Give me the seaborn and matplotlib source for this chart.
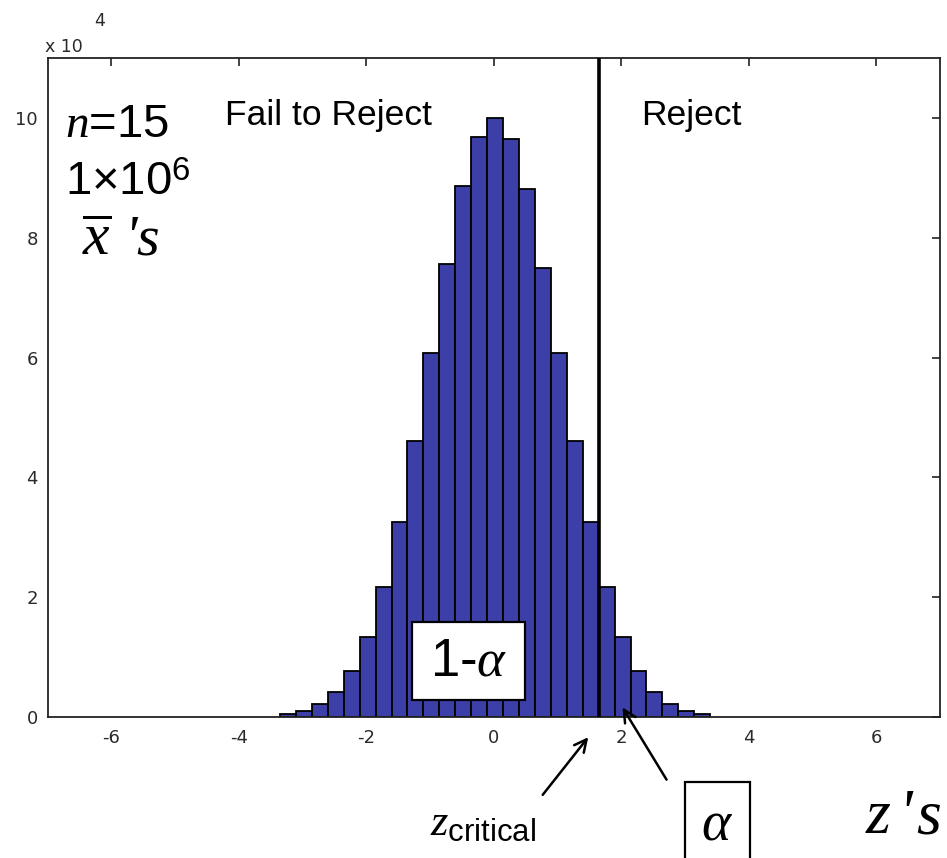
import matplotlib
matplotlib.use("Agg")
import matplotlib.pyplot as plt
import matplotlib.patches as mpatches
import seaborn as sns
import pandas as pd

# ---- data ----
bin_centers = [-3.23, -2.98, -2.73, -2.48, -2.23, -1.98, -1.73, -1.48, -1.23,
               -0.98, -0.73, -0.48, -0.23, 0.02, 0.27, 0.52, 0.77, 1.02,
               1.27, 1.52, 1.77, 2.02, 2.27, 2.52, 2.77, 3.02, 3.27]
counts_x1e4 = [0.045, 0.095, 0.21, 0.42, 0.765, 1.33, 2.16, 3.25, 4.60,
               6.07, 7.57, 8.86, 9.69, 10.0, 9.66, 8.82, 7.49, 6.07,
               4.60, 3.25, 2.16, 1.33, 0.765, 0.42, 0.21, 0.095, 0.045]
bin_width = 0.25
z_critical = 1.645
x_ticks = [-6, -4, -2, 0, 2, 4, 6]
y_ticks = [0, 2, 4, 6, 8, 10]

df = pd.DataFrame({"z": bin_centers, "count": counts_x1e4})

sns.set_style("white")
plt.rcParams["font.family"] = ["Liberation Sans", "DejaVu Sans"]
plt.rcParams["text.color"] = "black"
plt.rcParams["mathtext.fontset"] = "custom"
plt.rcParams["mathtext.rm"] = "Liberation Sans"
plt.rcParams["mathtext.it"] = "Liberation Serif:italic"
plt.rcParams["mathtext.bf"] = "Liberation Sans:bold"

W, H = 947, 858
fig = plt.figure(figsize=(W / 100, H / 100), dpi=100)
L, R, T, B = 47.7, 940.0, 58.3, 716.7
ax = fig.add_axes([L / W, 1 - B / H, (R - L) / W, (B - T) / H])


def fp(x, y):
    return (x / W, 1 - y / H)


sns.histplot(data=df, x="z", weights="count", binwidth=bin_width,
             binrange=(min(bin_centers) - bin_width / 2, max(bin_centers) + bin_width / 2),
             color="#3d3fa8", edgecolor="black", linewidth=1.3, alpha=1.0, ax=ax)

ax.axvline(z_critical, color="black", lw=2.6, zorder=3)

ax.set_xlim(-7, 7)
ax.set_ylim(0, 11)
ax.set_xticks(x_ticks)
ax.set_yticks(y_ticks)
ax.set_xticklabels([str(t) for t in x_ticks])
ax.set_yticklabels([str(t) for t in y_ticks])
ax.set_xlabel("")
ax.set_ylabel("")
ax.set_axisbelow(True)
ax.tick_params(direction="in", length=6, width=1.2, color="#222222",
               top=True, right=True, labelsize=13, labelcolor="#2a2a2a")
ax.tick_params(axis="x", pad=9)
ax.tick_params(axis="y", pad=7)
for lab in ax.get_xticklabels() + ax.get_yticklabels():
    lab.set_fontfamily("DejaVu Sans")
for sp in ax.spines.values():
    sp.set_visible(True)
    sp.set_color("#222222")
    sp.set_linewidth(1.3)

# exponent label
fig.text(*fp(45, 52), "x 10", fontsize=12.5, color="#2a2a2a", family="DejaVu Sans",
         ha="left", va="baseline")
fig.text(*fp(94, 26), "4", fontsize=12.5, color="#2a2a2a", family="DejaVu Sans",
         ha="left", va="baseline")

# region labels
fig.text(*fp(225, 125), "Fail to Reject", fontsize=25.5, ha="left", va="baseline")
fig.text(*fp(641, 125), "Reject", fontsize=25.5, ha="left", va="baseline")

# sample info
fig.text(*fp(65, 137), r"$n$=15", fontsize=34, ha="left", va="baseline")
fig.text(*fp(65, 195), r"1×10$^{6}$", fontsize=34, ha="left", va="baseline")
serif_it = dict(family="Liberation Serif", style="italic", ha="left", va="baseline")
fig.text(*fp(82, 255), r"$\overline{x}$", fontsize=43, ha="left", va="baseline")
fig.text(*fp(124, 255), "'", fontsize=42, **serif_it)
fig.text(*fp(136, 255), "s", fontsize=42, **serif_it)

# 1 - alpha box
fig.patches.append(mpatches.Rectangle(fp(412, 700), 113 / W, 78 / H,
                                      transform=fig.transFigure, facecolor="white",
                                      edgecolor="black", lw=1.6, zorder=5))
fig.text(*fp(469, 675), r"1-$\alpha$", fontsize=38, ha="center", va="baseline", zorder=6)

# alpha box
fig.patches.append(mpatches.Rectangle(fp(685, 880), 65 / W, 98 / H,
                                      transform=fig.transFigure, facecolor="white",
                                      edgecolor="black", lw=1.6, zorder=5))
fig.text(*fp(717, 840), r"$\alpha$", fontsize=40, ha="center", va="baseline", zorder=6)

# z critical label and z's
fig.text(*fp(430, 835), r"$z_{\rm critical}$", fontsize=32, ha="left", va="baseline")
fig.text(*fp(866, 833), "z", fontsize=46, **serif_it)
fig.text(*fp(898, 833), "'", fontsize=46, **serif_it)
fig.text(*fp(916, 833), "s", fontsize=46, **serif_it)

arrow_kw = dict(arrowstyle="->", lw=1.8, color="black", mutation_scale=22)
ax.annotate("", xy=(590, H - 735), xycoords="figure pixels",
            xytext=(541, H - 797), textcoords="figure pixels",
            arrowprops=arrow_kw, annotation_clip=False)
ax.annotate("", xy=(621, H - 705), xycoords="figure pixels",
            xytext=(668, H - 782), textcoords="figure pixels",
            arrowprops=arrow_kw, annotation_clip=False)

fig.savefig("out.png", dpi=100)
